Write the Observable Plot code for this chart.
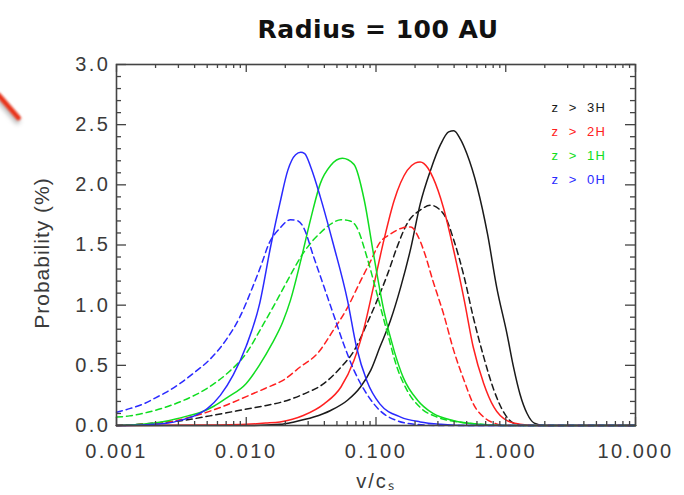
<!DOCTYPE html>
<html>
<head>
<meta charset="utf-8">
<script src="https://cdn.jsdelivr.net/npm/d3@7"></script>
<script src="https://cdn.jsdelivr.net/npm/@observablehq/plot@0.6"></script>
<style>
  html, body { margin: 0; padding: 0; background: #fff; }
  #wrap { position: relative; width: 684px; height: 495px; overflow: hidden; }
  #title { position: absolute; left: 378px; top: 13px; transform: translateX(-50%);
           font-family: "DejaVu Sans", sans-serif; font-weight: bold; font-size: 25px;
           letter-spacing: 0.5px; color: #111; white-space: nowrap; line-height: 34px; z-index: 2; }
  #chart { position: absolute; left: 0; top: 50px; z-index: 1; }
  #arrow { position: absolute; left: -9px; top: 104px; width: 35px; height: 5px;
           background: #e8341c; transform: rotate(49deg); filter: blur(0.8px);
           box-shadow: 2px 3px 4px rgba(0,0,0,0.3); border-radius: 2px; z-index: 3; }
</style>
</head>
<body>
<div id="wrap">
  <div id="title">Radius = 100 AU</div>
  <div id="chart"></div>
  <div id="arrow"></div>
</div>
<script>
// ---- data (v/c_s, probability %) ----
const seriesNames = ["z > 3H", "z > 2H", "z > 1H", "z > 0H"];
const seriesColors = ["#1a1a1a", "#ff2020", "#10dd20", "#2a2aff"];

// z > 0H (blue)
const blueSolidV = [0.001,0.00158,0.00251,0.00316,0.00398,0.00501,0.00631,0.00794,0.0100,0.0126,0.0155,0.0182,0.0209,0.0240,0.0263,0.0282,0.0316,0.0372,0.0468,0.0603,0.0708,0.0851,0.107,0.155,0.219,0.316,0.501,10];
const blueSolidP = [0,0.005,0.02,0.045,0.08,0.14,0.25,0.42,0.66,1.0,1.5,1.85,2.12,2.25,2.27,2.26,2.14,1.90,1.51,1.04,0.65,0.37,0.18,0.07,0.03,0.01,0,0];
const blueDashV = [0.001,0.00126,0.00162,0.00200,0.00245,0.00309,0.00398,0.00525,0.00708,0.00891,0.0112,0.0132,0.0148,0.0182,0.0219,0.0251,0.0275,0.0331,0.0398,0.0468,0.0562,0.0676,0.0851,0.107,0.145,0.200,0.316,10];
const blueDashP = [0.11,0.14,0.18,0.23,0.28,0.35,0.44,0.55,0.72,0.90,1.15,1.35,1.50,1.64,1.71,1.70,1.65,1.40,1.15,0.93,0.68,0.46,0.26,0.125,0.04,0.01,0,0];

// z > 1H (green)
const greenSolidV = [0.001,0.00158,0.00251,0.00355,0.00447,0.00562,0.00708,0.0100,0.0126,0.0158,0.0191,0.0219,0.0263,0.0316,0.0372,0.0447,0.0550,0.0676,0.0813,0.0955,0.115,0.138,0.162,0.209,0.275,0.398,0.631,1.0,10];
const greenSolidP = [0,0.01,0.04,0.08,0.11,0.16,0.23,0.35,0.50,0.68,0.86,1.04,1.37,1.73,2.01,2.16,2.22,2.17,1.87,1.43,0.955,0.62,0.40,0.21,0.10,0.04,0.01,0,0];
const greenDashV = [0.001,0.00126,0.00174,0.00251,0.00331,0.00501,0.00708,0.0100,0.0132,0.0174,0.0219,0.0263,0.0316,0.0372,0.0457,0.0537,0.0631,0.0708,0.0851,0.102,0.123,0.145,0.174,0.219,0.295,0.427,0.631,1.0,10];
const greenDashP = [0.07,0.08,0.11,0.16,0.21,0.31,0.43,0.60,0.82,1.05,1.25,1.40,1.52,1.60,1.68,1.71,1.70,1.65,1.40,1.09,0.76,0.485,0.29,0.15,0.07,0.03,0.01,0,0];

// z > 2H (red)
const redSolidV = [0.001,0.00631,0.0100,0.0141,0.0182,0.0275,0.0398,0.0537,0.0676,0.0813,0.0955,0.115,0.138,0.174,0.200,0.219,0.251,0.275,0.331,0.398,0.479,0.562,0.676,0.813,1.023,1.288,1.778,10];
const redSolidP = [0,0.005,0.01,0.02,0.03,0.083,0.18,0.32,0.54,0.82,1.15,1.54,1.87,2.12,2.18,2.19,2.14,2.06,1.81,1.45,1.04,0.65,0.35,0.15,0.04,0.01,0,0];
const redDashV = [0.001,0.00158,0.00282,0.00417,0.00631,0.0100,0.0141,0.0195,0.0263,0.0355,0.0468,0.0603,0.0759,0.0912,0.107,0.129,0.158,0.186,0.209,0.234,0.275,0.331,0.398,0.479,0.562,0.676,0.813,1.0,10];
const redDashP = [0,0.01,0.04,0.085,0.15,0.24,0.31,0.38,0.49,0.60,0.79,0.98,1.20,1.37,1.52,1.59,1.64,1.65,1.58,1.45,1.20,0.93,0.62,0.37,0.18,0.07,0.02,0,0];

// z > 3H (black)
const blackSolidV = [0.001,0.0100,0.0182,0.0234,0.0331,0.0447,0.0603,0.0759,0.0912,0.107,0.129,0.155,0.186,0.219,0.263,0.316,0.363,0.398,0.447,0.501,0.603,0.724,0.851,1.023,1.148,1.288,1.46,1.66,1.995,10];
const blackSolidP = [0,0,0.01,0.03,0.07,0.125,0.21,0.32,0.46,0.65,0.87,1.15,1.48,1.84,2.12,2.34,2.44,2.45,2.38,2.26,1.98,1.59,1.15,0.76,0.485,0.26,0.10,0.02,0,0];
const blackDashV = [0.001,0.00200,0.00316,0.00525,0.00832,0.0132,0.0195,0.0275,0.0398,0.0537,0.0676,0.0851,0.102,0.123,0.145,0.174,0.219,0.263,0.331,0.398,0.479,0.562,0.676,0.813,0.977,1.148,1.413,10];
const blackDashP = [0,0.02,0.04,0.08,0.12,0.16,0.20,0.26,0.35,0.485,0.62,0.845,1.04,1.26,1.48,1.68,1.79,1.83,1.76,1.54,1.23,0.90,0.57,0.29,0.10,0.02,0,0];

// axis ticks
const xTickValues = [0.001, 0.01, 0.1, 1, 10];
const xTickLabels = ["0.001", "0.010", "0.100", "1.000", "10.000"];
const yTickValues = [0, 0.5, 1.0, 1.5, 2.0, 2.5, 3.0];
const yTickLabels = ["0.0", "0.5", "1.0", "1.5", "2.0", "2.5", "3.0"];
const xMinor = [];
for (const d of [0.001, 0.01, 0.1, 1]) for (let k = 2; k <= 9; k++) xMinor.push(+(d * k).toPrecision(3));
const yMinor = d3.range(0, 31).map(i => i / 10).filter(v => Math.round(v * 10) % 5 !== 0);

// ---- build tables ----
const toRows = (vs, ps, series, style) => vs.map((v, i) => ({v, p: ps[i], series, style}));
const lines = [
  ["z > 3H", blackSolidV, blackSolidP, blackDashV, blackDashP],
  ["z > 2H", redSolidV, redSolidP, redDashV, redDashP],
  ["z > 1H", greenSolidV, greenSolidP, greenDashV, greenDashP],
  ["z > 0H", blueSolidV, blueSolidP, blueDashV, blueDashP]
];

const W = 684, H = 445, mL = 116, mR = 49, mT = 14, mB = 70;
const fw = W - mL - mR, fh = H - mT - mB;
const colorOf = s => seriesColors[seriesNames.indexOf(s)];

const marks = [];
// curves
for (const [name, sv, sp, dv, dp] of lines) {
  marks.push(Plot.line(toRows(dv, dp, name, "dash"), {
    x: "v", y: "p", stroke: colorOf(name), strokeWidth: 1.5,
    strokeDasharray: "6,4", curve: "monotone-x"
  }));
  marks.push(Plot.line(toRows(sv, sp, name, "solid"), {
    x: "v", y: "p", stroke: colorOf(name), strokeWidth: 1.5, curve: "monotone-x"
  }));
}
// ticks (inward, IDL-style, on all four sides)
const tickColor = "#444";
marks.push(
  Plot.tickX(xMinor, {x: d => d, insetTop: fh - 4, stroke: tickColor, strokeWidth: 1.3}),
  Plot.tickX(xMinor, {x: d => d, insetBottom: fh - 4, stroke: tickColor, strokeWidth: 1.3}),
  Plot.tickX(xTickValues, {x: d => d, insetTop: fh - 8, stroke: tickColor, strokeWidth: 1.3}),
  Plot.tickX(xTickValues, {x: d => d, insetBottom: fh - 8, stroke: tickColor, strokeWidth: 1.3}),
  Plot.tickY(yMinor, {y: d => d, insetRight: fw - 5, stroke: tickColor, strokeWidth: 1.3}),
  Plot.tickY(yMinor, {y: d => d, insetLeft: fw - 5, stroke: tickColor, strokeWidth: 1.3}),
  Plot.tickY(yTickValues, {y: d => d, insetRight: fw - 10, stroke: tickColor, strokeWidth: 1.3}),
  Plot.tickY(yTickValues, {y: d => d, insetLeft: fw - 10, stroke: tickColor, strokeWidth: 1.3}),
  Plot.frame({stroke: "#444", strokeWidth: 1.6})
);
// tick labels
marks.push(
  Plot.axisX({anchor: "bottom", ticks: xTickValues, tickSize: 0, tickPadding: 18,
    tickFormat: d => xTickLabels[xTickValues.indexOf(d)], label: null,
    fontSize: 20, fill: "#3a3a3a"}),
  Plot.axisY({anchor: "left", ticks: yTickValues, tickSize: 0, tickPadding: 6,
    tickFormat: d => yTickLabels[yTickValues.findIndex(t => Math.abs(t - d) < 1e-9)], label: null,
    fontSize: 20, fill: "#3a3a3a"})
);
// axis titles
marks.push(
  Plot.text(["Probability (%)"], {frameAnchor: "left", dx: -74, dy: 8, rotate: -90, text: d => d,
    textAnchor: "middle", fontSize: 21, fill: "#3a3a3a"}),
  Plot.text(["v/cₛ"], {frameAnchor: "bottom", dy: 62, text: d => d, textAnchor: "middle",
    fontSize: 20, fill: "#3a3a3a"})
);
// legend
seriesNames.forEach((name, i) => {
  marks.push(Plot.text([name], {frameAnchor: "top-right", dx: -29, dy: 38 + i * 24,
    text: d => d, textAnchor: "end", fill: seriesColors[i], fontSize: 13}));
});

const chart = Plot.plot({
  width: W, height: H,
  marginLeft: mL, marginRight: mR, marginTop: mT, marginBottom: mB,
  x: {type: "log", domain: [0.001, 10], axis: null},
  y: {domain: [0, 3], axis: null},
  style: {fontFamily: "'Liberation Sans', Arial, sans-serif", background: "#fff", overflow: "visible"},
  marks
});
chart.querySelectorAll("text").forEach(t => {
  const s = t.textContent;
  if (/^[0-9.]+$/.test(s)) t.setAttribute("letter-spacing", "2.5");
  if (/^z > /.test(s)) { t.setAttribute("letter-spacing", "1.5"); t.setAttribute("word-spacing", "4"); }
  if (s === "Probability (%)") t.setAttribute("letter-spacing", "1");
  if (s === "v/cₛ") t.setAttribute("letter-spacing", "2");
});
document.getElementById("chart").appendChild(chart);
</script>
</body>
</html>
